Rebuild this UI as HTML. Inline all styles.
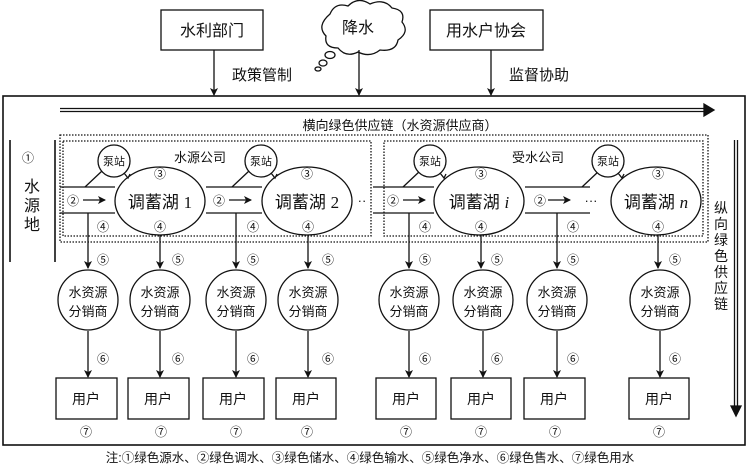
<!DOCTYPE html>
<html><head><meta charset="utf-8"><style>
html,body{margin:0;padding:0;background:#fff;}
svg{display:block;}
text{font-family:"Liberation Sans","Noto Sans CJK SC",sans-serif;fill:#111;}
.s{font-family:"Liberation Serif","Noto Serif CJK SC",serif;}
</style></head><body>
<svg width="751" height="471" viewBox="0 0 751 471" xmlns="http://www.w3.org/2000/svg">
<defs>
<marker id="a" markerWidth="8" markerHeight="8" refX="7" refY="4" orient="auto" markerUnits="userSpaceOnUse"><path d="M0,0 L8,4 L0,8 L2,4 Z" fill="#111"/></marker>
</defs>
<g stroke="#111" fill="none" stroke-width="1.3">
<rect x="161" y="10" width="102" height="40"/>
<rect x="430" y="10" width="113" height="40"/>
<path d="M330,14 q5,-12 18,-8 q10,-10 22,-2 q14,-6 22,4 q14,2 10,14 q8,10 -4,18 q-2,12 -18,10 q-10,8 -22,2 q-12,6 -20,-4 q-14,0 -12,-12 q-10,-10 4,-22 Z" fill="#fff"/>
<ellipse cx="330" cy="55" rx="5" ry="3.5"/><ellipse cx="323" cy="63" rx="4" ry="3"/><ellipse cx="318" cy="69" rx="3" ry="2"/>
<line x1="214" y1="50" x2="214" y2="95" marker-end="url(#a)"/>
<line x1="359" y1="50" x2="359" y2="95" marker-end="url(#a)"/>
<line x1="491" y1="50" x2="491" y2="95" marker-end="url(#a)"/>
<rect x="3" y="96" width="742" height="349" stroke-width="1.6"/>
<line x1="60" y1="108.5" x2="706" y2="108.5"/>
<line x1="60" y1="111.5" x2="706" y2="111.5"/>
<path d="M704,104 L714,110 L704,116 Z" fill="#111"/>
<line x1="734.5" y1="140" x2="734.5" y2="408"/>
<line x1="737.5" y1="140" x2="737.5" y2="408"/>
<path d="M731,406 L736,416 L741,406 Z" fill="#111"/>
<line x1="10" y1="140" x2="10" y2="262" stroke-width="1.6"/>
<line x1="55" y1="140" x2="55" y2="262" stroke-width="1.6"/>
<rect x="60" y="135" width="648" height="107" stroke-dasharray="1.5,1.5"/>
<rect x="63" y="141" width="308" height="95" stroke-dasharray="1.5,1.5"/>
<rect x="384" y="141" width="319" height="95" stroke-dasharray="1.5,1.5"/>
<path d="M60,187 H115 M60,213 H115 M206,187 H262 M206,213 H262 M373,187 H434 M373,213 H434 M525,187 H590 M525,213 H590"/>
<ellipse cx="160" cy="201" rx="45" ry="34" fill="#fff"/>
<ellipse cx="307" cy="201" rx="45" ry="34" fill="#fff"/>
<ellipse cx="479" cy="201" rx="45" ry="34" fill="#fff"/>
<ellipse cx="656" cy="201" rx="45" ry="34" fill="#fff"/>
<g fill="#fff">
<path d="M85,187 L102,171"/><circle cx="114" cy="161" r="16"/><path d="M124,173 l4,5 l2,-4"/>
<path d="M232,187 L249,171"/><circle cx="261" cy="161" r="16"/><path d="M271,173 l4,5 l2,-4"/>
<path d="M403,187 L420,171"/><circle cx="430" cy="161" r="16"/><path d="M440,173 l4,5 l2,-4"/>
<path d="M582,187 L599,171"/><circle cx="608" cy="161" r="16"/><path d="M618,173 l4,5 l2,-4"/>
</g>
<line x1="83" y1="200" x2="105" y2="200" marker-end="url(#a)"/>
<line x1="229" y1="200" x2="251" y2="200" marker-end="url(#a)"/>
<line x1="403" y1="200" x2="425" y2="200" marker-end="url(#a)"/>
<line x1="548" y1="200" x2="570" y2="200" marker-end="url(#a)"/>
<g marker-end="url(#a)">
<line x1="88" y1="213" x2="88" y2="268"/>
<line x1="160" y1="235" x2="160" y2="268"/>
<line x1="236" y1="213" x2="236" y2="268"/>
<line x1="308" y1="235" x2="308" y2="268"/>
<line x1="409" y1="213" x2="409" y2="268"/>
<line x1="481" y1="235" x2="481" y2="268"/>
<line x1="557" y1="213" x2="557" y2="268"/>
<line x1="658" y1="235" x2="658" y2="268"/>
<line x1="88" y1="331" x2="88" y2="377"/>
<line x1="160" y1="331" x2="160" y2="377"/>
<line x1="236" y1="331" x2="236" y2="377"/>
<line x1="308" y1="331" x2="308" y2="377"/>
<line x1="409" y1="331" x2="409" y2="377"/>
<line x1="483" y1="331" x2="483" y2="377"/>
<line x1="557" y1="331" x2="557" y2="377"/>
<line x1="660" y1="331" x2="660" y2="377"/>
</g>
<circle cx="88" cy="300" r="30"/><circle cx="160" cy="300" r="30"/><circle cx="236" cy="300" r="30"/><circle cx="308" cy="300" r="30"/>
<circle cx="409" cy="300" r="30"/><circle cx="483" cy="300" r="30"/><circle cx="557" cy="300" r="30"/><circle cx="660" cy="300" r="30"/>
<rect x="56" y="378" width="61" height="41"/><rect x="128" y="378" width="61" height="41"/><rect x="203" y="378" width="61" height="41"/><rect x="276" y="378" width="60" height="41"/>
<rect x="376" y="378" width="60" height="41"/><rect x="451" y="378" width="60" height="41"/><rect x="524" y="378" width="61" height="41"/><rect x="629" y="378" width="60" height="41"/>
</g>
<g font-size="16" text-anchor="middle">
<text x="212" y="36">水利部门</text>
<text x="358" y="33">降水</text>
<text x="486" y="36">用水户协会</text>
</g>
<g font-size="15">
<text x="232" y="80">政策管制</text>
<text x="509" y="80">监督协助</text>
</g>
<text x="400" y="130" font-size="13" text-anchor="middle">横向绿色供应链（水资源供应商）</text>
<g font-size="13" text-anchor="middle">
<text x="200" y="162">水源公司</text>
<text x="538" y="162">受水公司</text>
</g>
<g font-size="11" text-anchor="middle">
<text x="114" y="165">泵站</text><text x="261" y="165">泵站</text><text x="430" y="165">泵站</text><text x="608" y="165">泵站</text>
</g>
<g font-size="17" text-anchor="middle">
<text x="160" y="208">调蓄湖 <tspan class="s">1</tspan></text>
<text x="307" y="208">调蓄湖 <tspan class="s">2</tspan></text>
<text x="479" y="208">调蓄湖 <tspan class="s" font-style="italic">i</tspan></text>
<text x="656" y="208">调蓄湖 <tspan class="s" font-style="italic">n</tspan></text>
</g>
<g font-size="12" text-anchor="middle" fill="#333">
<text x="28" y="162">①</text>
<text x="73" y="205">②</text><text x="219" y="205">②</text><text x="393" y="205">②</text><text x="540" y="205">②</text>
<text x="160" y="178">③</text><text x="307" y="178">③</text><text x="481" y="178">③</text><text x="658" y="178">③</text>
<text x="103" y="231">④</text><text x="160" y="231">④</text><text x="253" y="231">④</text><text x="308" y="231">④</text>
<text x="425" y="231">④</text><text x="481" y="231">④</text><text x="573" y="231">④</text><text x="658" y="231">④</text>
<text x="103" y="264">⑤</text><text x="178" y="264">⑤</text><text x="253" y="264">⑤</text><text x="328" y="264">⑤</text>
<text x="425" y="264">⑤</text><text x="497" y="264">⑤</text><text x="573" y="264">⑤</text><text x="675" y="264">⑤</text>
<text x="103" y="363">⑥</text><text x="178" y="363">⑥</text><text x="253" y="363">⑥</text><text x="328" y="363">⑥</text>
<text x="425" y="363">⑥</text><text x="497" y="363">⑥</text><text x="573" y="363">⑥</text><text x="675" y="363">⑥</text>
<text x="86" y="436">⑦</text><text x="161" y="436">⑦</text><text x="236" y="436">⑦</text><text x="307" y="436">⑦</text>
<text x="406" y="436">⑦</text><text x="481" y="436">⑦</text><text x="555" y="436">⑦</text><text x="659" y="436">⑦</text>
</g>
<g font-size="16" text-anchor="middle">
<text x="32" y="192">水</text><text x="32" y="211">源</text><text x="32" y="230">地</text>
</g>
<g font-size="14" text-anchor="middle">
<text x="721" y="213">纵</text><text x="721" y="229">向</text><text x="721" y="245">绿</text><text x="721" y="261">色</text><text x="721" y="277">供</text><text x="721" y="293">应</text><text x="721" y="309">链</text>
</g>
<g font-size="13" text-anchor="middle">
<text x="362" y="205">··</text>
<text x="591" y="205">···</text>
</g>
<g font-size="13" text-anchor="middle">
<text x="88" y="297">水资源</text><text x="88" y="316">分销商</text>
<text x="160" y="297">水资源</text><text x="160" y="316">分销商</text>
<text x="236" y="297">水资源</text><text x="236" y="316">分销商</text>
<text x="308" y="297">水资源</text><text x="308" y="316">分销商</text>
<text x="409" y="297">水资源</text><text x="409" y="316">分销商</text>
<text x="483" y="297">水资源</text><text x="483" y="316">分销商</text>
<text x="557" y="297">水资源</text><text x="557" y="316">分销商</text>
<text x="660" y="297">水资源</text><text x="660" y="316">分销商</text>
</g>
<g font-size="14" text-anchor="middle">
<text x="86" y="404">用户</text><text x="158" y="404">用户</text><text x="233" y="404">用户</text><text x="306" y="404">用户</text>
<text x="406" y="404">用户</text><text x="481" y="404">用户</text><text x="554" y="404">用户</text><text x="659" y="404">用户</text>
</g>
<text x="370" y="462" font-size="12.5" text-anchor="middle">注:①绿色源水、②绿色调水、③绿色储水、④绿色输水、⑤绿色净水、⑥绿色售水、⑦绿色用水</text>
</svg>
</body></html>
